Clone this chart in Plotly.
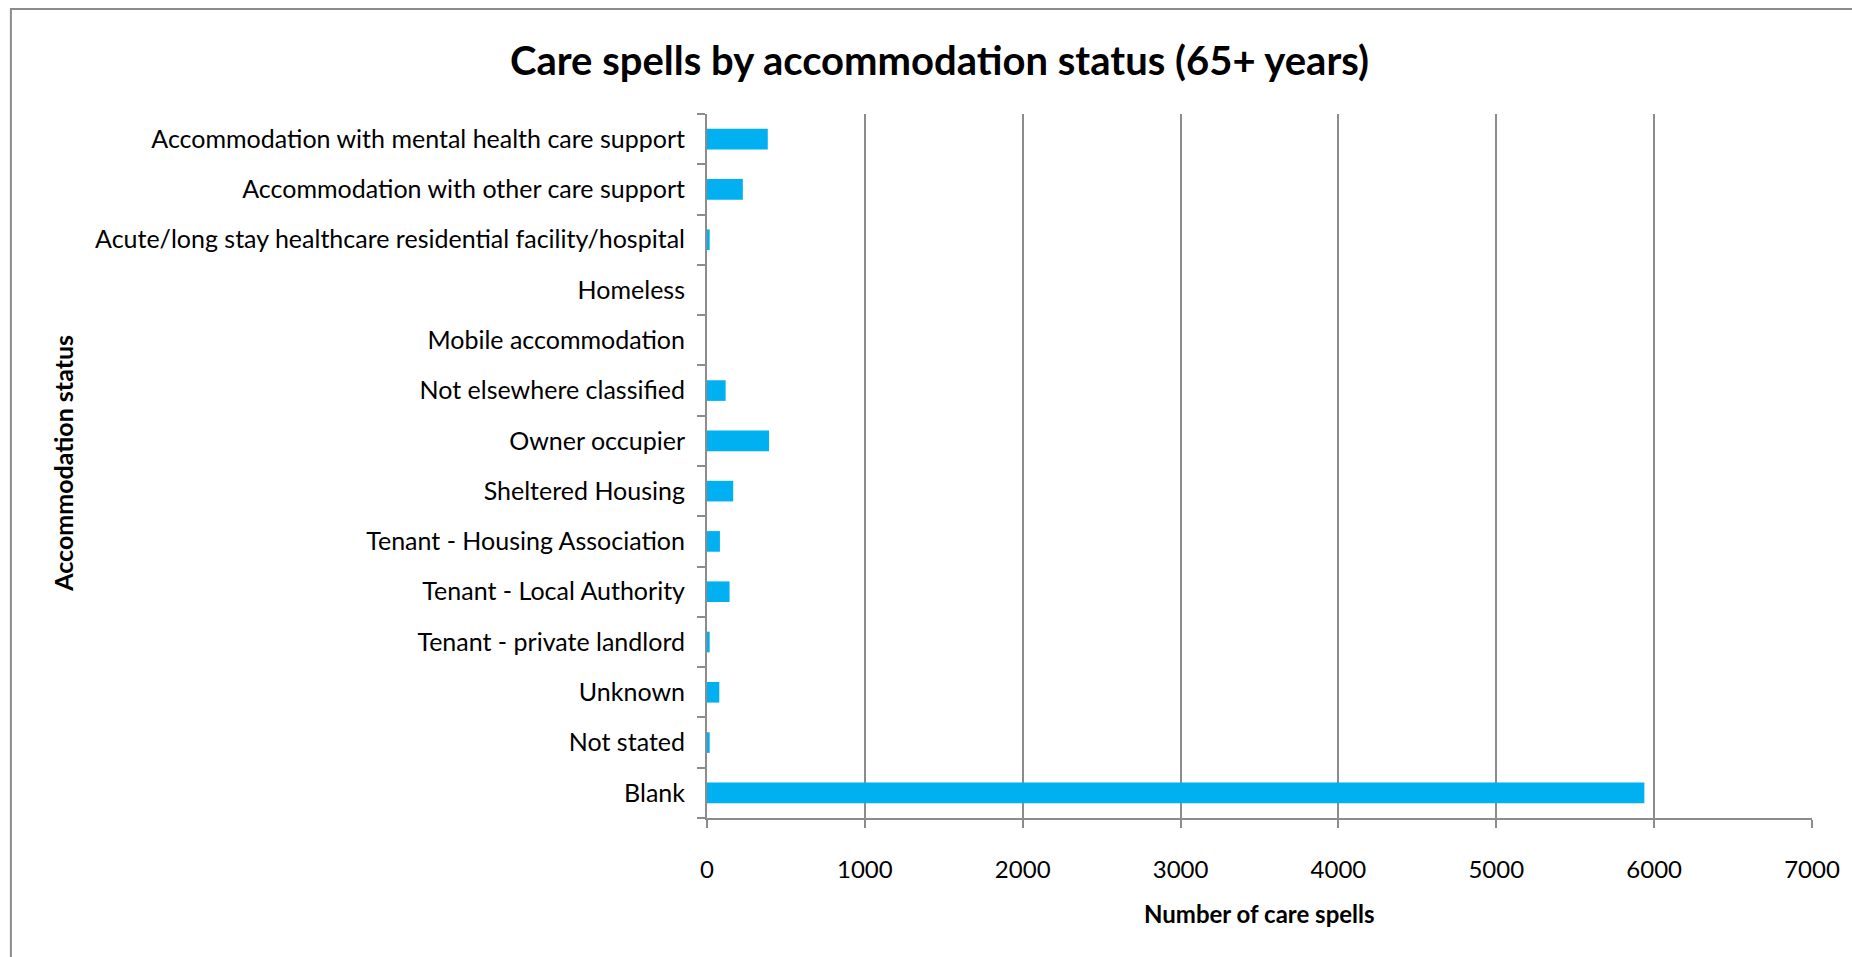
import plotly.graph_objects as go

categories = [
    "Accommodation with mental health care support",
    "Accommodation with other care support",
    "Acute/long stay healthcare residential facility/hospital",
    "Homeless",
    "Mobile accommodation",
    "Not elsewhere classified",
    "Owner occupier",
    "Sheltered Housing",
    "Tenant - Housing Association",
    "Tenant - Local Authority",
    "Tenant - private landlord",
    "Unknown",
    "Not stated",
    "Blank",
]
values = [385, 227, 17, 0, 0, 118, 393, 166, 82, 143, 17, 78, 17, 5938]
x_ticks = [0, 1000, 2000, 3000, 4000, 5000, 6000, 7000]

W, H = 1852, 957
ML, MR, MT, MB = 707, 37, 114, 139
PW, PH = W - ML - MR, H - MT - MB

def px_x(p):
    return (p - ML) / PW

def px_y(p):
    return 1 - (p - MT) / PH

FONT = "Lato, 'Open Sans', sans-serif"
GRID = "#8c8c8c"

fig = go.Figure(
    go.Bar(
        x=values,
        y=categories,
        orientation="h",
        marker=dict(color="#00B0F0", line=dict(width=0)),
    )
)

fig.update_layout(
    width=W,
    height=H,
    margin=dict(l=ML, r=MR, t=MT, b=MB, pad=0),
    paper_bgcolor="white",
    plot_bgcolor="white",
    bargap=0.59,
    showlegend=False,
    font=dict(family=FONT, color="black", size=25),
)

fig.update_xaxes(
    range=[0, 7000],
    tickvals=x_ticks,
    ticktext=[str(v) for v in x_ticks],
    showgrid=True,
    gridcolor=GRID,
    gridwidth=2,
    showline=True,
    linecolor=GRID,
    linewidth=2,
    ticks="outside",
    ticklen=8,
    tickwidth=2,
    tickcolor=GRID,
    ticklabelstandoff=21,
    zeroline=False,
    tickfont=dict(size=24, family=FONT, color="black"),
)

fig.update_yaxes(
    type="category",
    categoryorder="array",
    categoryarray=categories[::-1],
    showgrid=False,
    showline=True,
    linecolor=GRID,
    linewidth=2,
    ticks="outside",
    tickson="boundaries",
    ticklen=8,
    tickwidth=2,
    tickcolor=GRID,
    ticklabelstandoff=15,
    tickfont=dict(size=25, family=FONT, color="black"),
)

# Title
fig.add_annotation(
    text="<b>Care spells by accommodation status (65+ years)</b>",
    xref="paper", yref="paper",
    x=px_x(940), y=px_y(60),
    xanchor="center", yanchor="middle",
    showarrow=False,
    font=dict(size=40, family=FONT, color="black"),
)
# X axis title
fig.add_annotation(
    text="<b>Number of care spells</b>",
    xref="paper", yref="paper",
    x=px_x(1261), y=px_y(913),
    xanchor="center", yanchor="middle",
    showarrow=False,
    font=dict(size=24, family=FONT, color="black"),
)
# Y axis title
fig.add_annotation(
    text="<b>Accommodation status</b>",
    xref="paper", yref="paper",
    x=px_x(61), y=px_y(463),
    xanchor="center", yanchor="middle",
    textangle=-90,
    showarrow=False,
    font=dict(size=25, family=FONT, color="black"),
)

# Outer chart border (only top and left edges visible in frame)
fig.add_shape(
    type="rect",
    xref="paper", yref="paper",
    x0=px_x(9), x1=px_x(1900),
    y0=px_y(1000), y1=px_y(9),
    line=dict(color=GRID, width=2),
    fillcolor="rgba(0,0,0,0)",
    layer="below",
)

fig.write_html(
    "out.html",
    config={"displayModeBar": False},
    post_script="document.body.style.margin='0';",
)
